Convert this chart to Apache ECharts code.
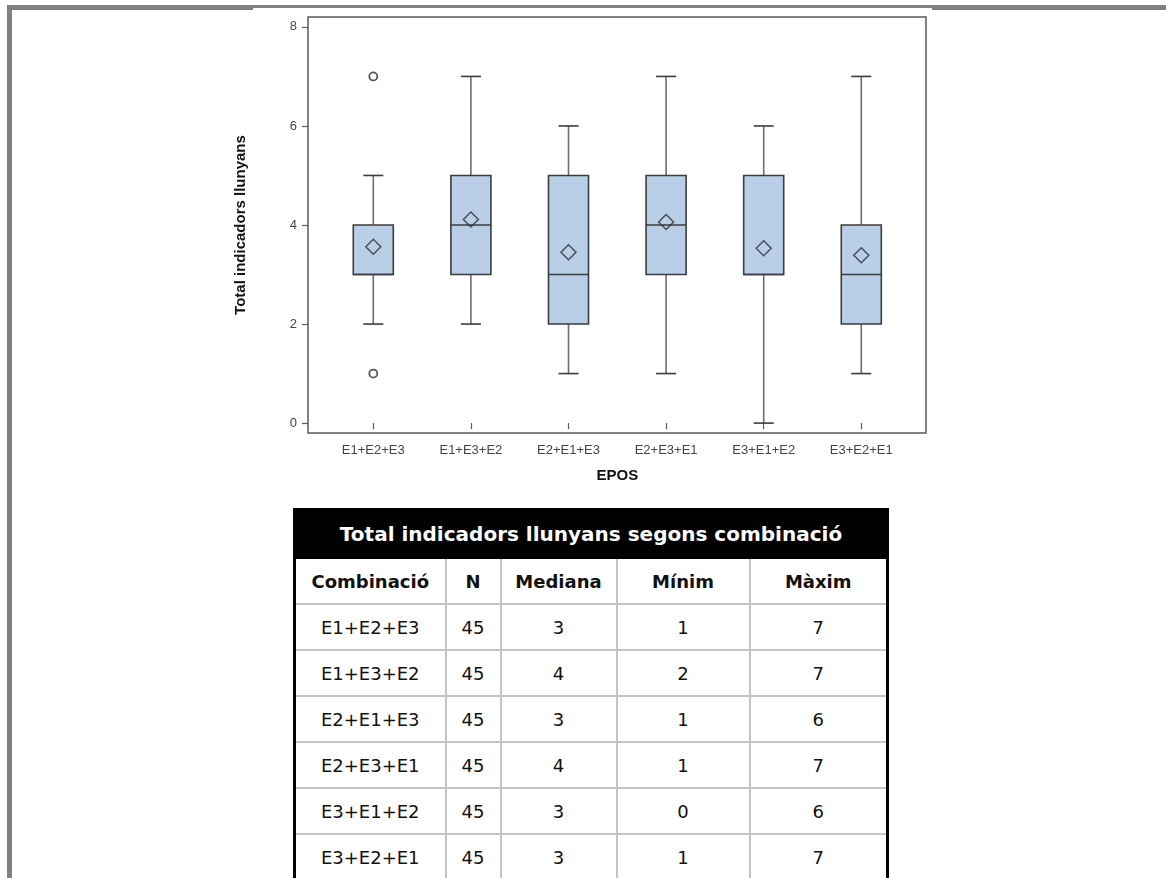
<!DOCTYPE html>
<html>
<head>
<meta charset="utf-8">
<script src="https://cdn.jsdelivr.net/npm/echarts@6/dist/echarts.min.js"></script>
<style>
  html, body { margin: 0; padding: 0; width: 1166px; height: 878px; overflow: hidden; background: #fff; }
  .bar { position: absolute; background: #808080; }
  #chart { position: absolute; left: 0; top: 0; width: 1166px; height: 500px; }
  table.t { position: absolute; left: 293px; top: 508px; border-collapse: collapse; table-layout: fixed;
            font-family: "DejaVu Sans", "Liberation Sans", sans-serif; color: #111; }
  table.t td { text-align: center; padding: 0; border: 2px solid #c4c4c4; font-size: 18px; white-space: nowrap; }
  table.t tr.cap td { background: #000; color: #fff; font-weight: bold; font-size: 20px; height: 47px; border: 2px solid #000; border-left: 3px solid #000; border-right: 3px solid #000; }
  table.t tr.hdr td { font-weight: bold; height: 44px; }
  table.t tr.row td { height: 44px; }
  table.t td.first { border-left: 3px solid #000; }
  table.t td.last { border-right: 3px solid #000; }
</style>
</head>
<body>
<div class="bar" style="left:7px; top:5px; width:1159px; height:5px;"></div>
<div class="bar" style="left:7px; top:5px; width:5px; height:873px;"></div>
<div style="position:absolute; left:253px; top:8px; width:679px; height:2px; background:#fff;"></div>
<div id="chart"></div>
<table class="t" id="tbl"></table>
<script>
// ---- data ----
const categories = ['E1+E2+E3', 'E1+E3+E2', 'E2+E1+E3', 'E2+E3+E1', 'E3+E1+E2', 'E3+E2+E1'];
const whiskerLow  = [2, 2, 1, 1, 0, 1];
const q1          = [3, 3, 2, 3, 3, 2];
const medians     = [3, 4, 3, 4, 3, 3];
const q3          = [4, 5, 5, 5, 5, 4];
const whiskerHigh = [5, 7, 6, 7, 6, 7];
const means       = [3.56, 4.11, 3.45, 4.06, 3.53, 3.39];
const outliers    = [[0, 7], [0, 1]];
const yTicks      = [0, 2, 4, 6, 8];

const tableTitle  = 'Total indicadors llunyans segons combinació';
const tableHeader = ['Combinació', 'N', 'Mediana', 'Mínim', 'Màxim'];
const tableN      = [45, 45, 45, 45, 45, 45];
const tableMin    = [1, 2, 1, 1, 0, 1];
const tableMax    = [7, 7, 6, 7, 6, 7];

// ---- chart ----
const boxData = categories.map((c, i) => [i, whiskerLow[i], q1[i], medians[i], q3[i], whiskerHigh[i]]);
const meanData = means.map((m, i) => [i, m]);

const axisGray = '#5a5a5a';
const font = '"Liberation Sans", Arial, sans-serif';

function renderBox(params, api) {
  const x = api.value(0);
  const pLow = api.coord([x, api.value(1)]);
  const pQ1 = api.coord([x, api.value(2)]);
  const pMed = api.coord([x, api.value(3)]);
  const pQ3 = api.coord([x, api.value(4)]);
  const pHigh = api.coord([x, api.value(5)]);
  const band = api.size([1, 0])[0];
  const hw = band * 0.205;
  const cw = hw / 2;
  const cx = pMed[0];
  const whisk = { stroke: '#6e6e6e', lineWidth: 1.6 };
  const dark = { stroke: '#3c3c3c', lineWidth: 1.6 };
  return {
    type: 'group',
    children: [
      { type: 'line', shape: { x1: cx, y1: pQ3[1], x2: cx, y2: pHigh[1] }, style: whisk },
      { type: 'line', shape: { x1: cx, y1: pQ1[1], x2: cx, y2: pLow[1] }, style: whisk },
      { type: 'line', shape: { x1: cx - cw, y1: pHigh[1], x2: cx + cw, y2: pHigh[1] }, style: dark },
      { type: 'line', shape: { x1: cx - cw, y1: pLow[1], x2: cx + cw, y2: pLow[1] }, style: dark },
      { type: 'rect', shape: { x: cx - hw, y: pQ3[1], width: 2 * hw, height: pQ1[1] - pQ3[1] },
        style: { fill: '#b9cfe8', stroke: '#3c3c3c', lineWidth: 1.6 } },
      { type: 'line', shape: { x1: cx - hw, y1: pMed[1], x2: cx + hw, y2: pMed[1] }, style: dark }
    ]
  };
}

const chart = echarts.init(document.getElementById('chart'), null, { renderer: 'canvas' });
chart.setOption({
  backgroundColor: 'transparent',
  animation: false,
  grid: [
    { left: 308, top: 17, width: 618, height: 416, show: true, borderColor: axisGray, borderWidth: 1.5, backgroundColor: 'transparent' },
    { left: 324.5, top: 17, width: 585.6, height: 416 }
  ],
  xAxis: [
    { type: 'value', gridIndex: 0, min: 0, max: 1, show: false },
    { type: 'category', gridIndex: 1, data: categories, boundaryGap: true,
      axisLine: { show: false },
      axisTick: { show: true, alignWithLabel: true, length: 6, lineStyle: { color: axisGray, width: 1.2 } },
      axisLabel: { color: '#444', fontSize: 13, fontFamily: font, margin: 11 },
      name: 'EPOS', nameLocation: 'middle', nameGap: 35,
      nameTextStyle: { fontWeight: 'bold', fontSize: 15, fontFamily: font, color: '#111' } }
  ],
  yAxis: [
    { type: 'value', gridIndex: 0, min: -0.2, max: 8.2,
      axisLine: { show: false }, splitLine: { show: false },
      axisTick: { show: true, length: 6, customValues: yTicks, lineStyle: { color: axisGray, width: 1.2 } },
      axisLabel: { customValues: yTicks, color: '#444', fontSize: 13, fontFamily: font, margin: 11 },
      name: 'Total indicadors llunyans', nameLocation: 'middle', nameGap: 60,
      nameTextStyle: { fontWeight: 'bold', fontSize: 15, fontFamily: font, color: '#111' } },
    { type: 'value', gridIndex: 1, min: -0.2, max: 8.2, show: false, splitLine: { show: false } }
  ],
  series: [
    { type: 'custom', xAxisIndex: 1, yAxisIndex: 1, data: boxData, renderItem: renderBox,
      encode: { x: 0, y: [1, 2, 3, 4, 5] }, z: 2 },
    { type: 'scatter', xAxisIndex: 1, yAxisIndex: 1, data: meanData, symbol: 'diamond', symbolSize: 15,
      itemStyle: { color: 'rgba(0,0,0,0)', borderColor: '#2e2e2e', borderWidth: 1.5 }, z: 3 },
    { type: 'scatter', xAxisIndex: 1, yAxisIndex: 1, data: outliers, symbol: 'circle', symbolSize: 8,
      itemStyle: { color: '#fff', borderColor: '#2e2e2e', borderWidth: 1.8 }, z: 3 }
  ]
});

// ---- table ----
const colWidths = [151, 55, 116, 133, 138];
const tbl = document.getElementById('tbl');
let html = '<colgroup>' + colWidths.map(w => '<col style="width:' + w + 'px">').join('') + '</colgroup>';
html += '<tr class="cap"><td colspan="5">' + tableTitle + '</td></tr>';
html += '<tr class="hdr">' + tableHeader.map((h, j) => '<td class="' + (j === 0 ? 'first' : (j === 4 ? 'last' : '')) + '">' + h + '</td>').join('') + '</tr>';
categories.forEach((c, i) => {
  const cells = [c, tableN[i], medians[i], tableMin[i], tableMax[i]];
  html += '<tr class="row">' + cells.map((v, j) => '<td class="' + (j === 0 ? 'first' : (j === 4 ? 'last' : '')) + '">' + v + '</td>').join('') + '</tr>';
});
tbl.innerHTML = html;
</script>
</body>
</html>
